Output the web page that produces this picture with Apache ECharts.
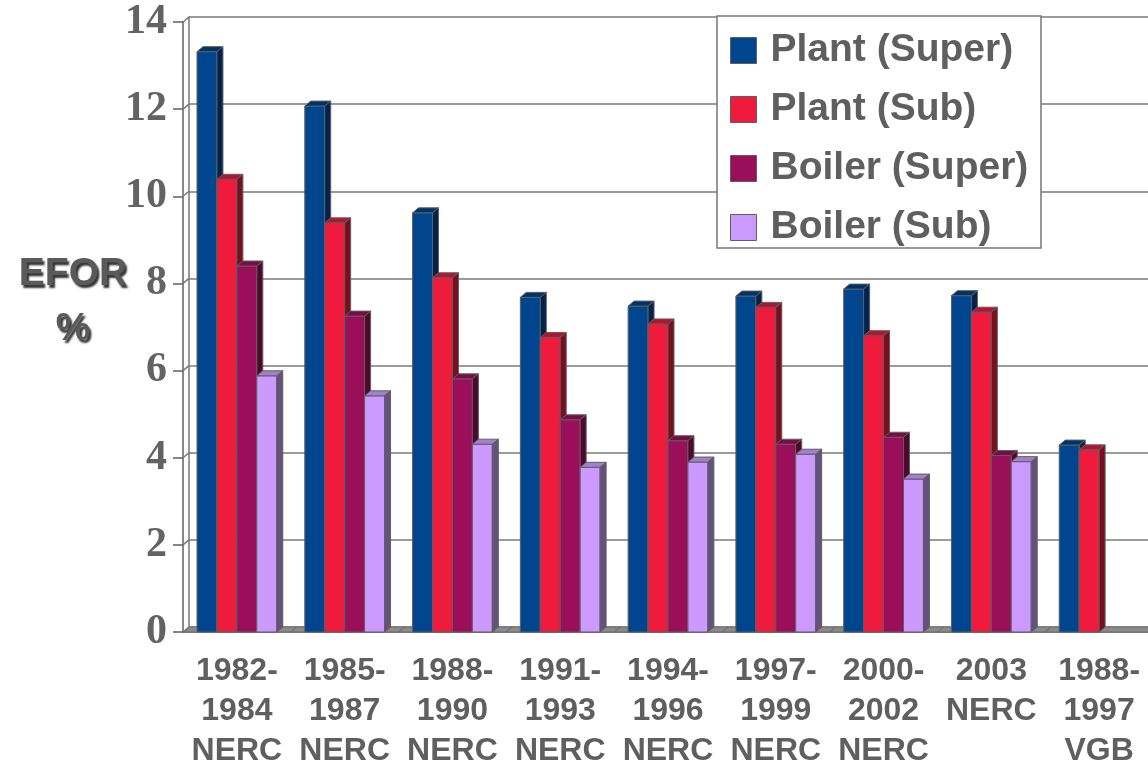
<!DOCTYPE html>
<html>
<head>
<meta charset="utf-8">
<script src="https://cdn.jsdelivr.net/npm/echarts@6.0.0/dist/echarts.min.js"></script>
<style>
  html, body { margin: 0; padding: 0; background: #fff; }
  #chart { width: 1148px; height: 763px; }
</style>
</head>
<body>
<div id="chart"></div>
<script>
const categories = ['1982-\n1984\nNERC', '1985-\n1987\nNERC', '1988-\n1990\nNERC', '1991-\n1993\nNERC',
    '1994-\n1996\nNERC', '1997-\n1999\nNERC', '2000-\n2002\nNERC', '2003\nNERC', '1988-\n1997\nVGB'];
const plantSuper = [13.32, 12.07, 9.62, 7.68, 7.48, 7.71, 7.87, 7.72, 4.29];
const plantSub = [10.39, 9.39, 8.13, 6.76, 7.07, 7.45, 6.80, 7.34, 4.18];
const boilerSuper = [8.40, 7.25, 5.81, 4.87, 4.39, 4.31, 4.47, 4.05, null];
const boilerSub = [5.88, 5.42, 4.31, 3.78, 3.90, 4.08, 3.51, 3.91, null];
const yTicks = [0, 2, 4, 6, 8, 10, 12, 14];

// 3d depth of the columns
const DX = 6, DY = 5;
const EDGE = '#5f5f5f';

const seriesDefs = [
    { name: 'Plant (Super)', data: plantSuper, front: '#02458f', top: '#013269', side: '#01234d' },
    { name: 'Plant (Sub)', data: plantSub, front: '#ee1b3c', top: '#b5142e', side: '#780e1e' },
    { name: 'Boiler (Super)', data: boilerSuper, front: '#9b0e5a', top: '#7a0b47', side: '#4e072d' },
    { name: 'Boiler (Sub)', data: boilerSub, front: '#cc99ff', top: '#a47fcc', side: '#665080' }
];

function makeBarRender(slot, def) {
    return function (params, api) {
        const val = api.value(1);
        if (val == null || isNaN(val)) return;
        const cat = api.value(0);
        const top = api.coord([cat, val]);
        const base = api.coord([cat, 0]);
        const bw = api.size([1, 0])[0] * 0.185;
        const x0 = top[0] + (slot - 2) * bw;
        const y = top[1], yb = base[1];
        return {
            type: 'group',
            children: [
                {
                    type: 'rect',
                    shape: { x: x0, y: y, width: bw, height: yb - y },
                    style: { fill: def.front, stroke: EDGE, lineWidth: 1 }
                },
                {
                    type: 'polygon',
                    shape: { points: [[x0, y], [x0 + DX, y - DY], [x0 + bw + DX, y - DY], [x0 + bw, y]] },
                    style: { fill: def.top, stroke: EDGE, lineWidth: 1 }
                },
                {
                    type: 'polygon',
                    shape: { points: [[x0 + bw, y], [x0 + bw + DX, y - DY], [x0 + bw + DX, yb - DY], [x0 + bw, yb]] },
                    style: { fill: def.side, stroke: EDGE, lineWidth: 1 }
                }
            ]
        };
    };
}

function renderFloor(params, api) {
    const c = api.coord([api.value(0), 0]);
    const w = api.size([1, 0])[0];
    const l = c[0] - w / 2, r = c[0] + w / 2, y = c[1];
    return {
        type: 'polygon',
        shape: { points: [[l, y], [l + DX, y - DY], [r + DX, y - DY], [r, y]] },
        style: { fill: '#8a8a8a', stroke: '#6a6a6a', lineWidth: 1 }
    };
}

function renderWall(params, api) {
    const c = api.coord([0, api.value(1)]);
    const l = c[0] - api.size([1, 0])[0] / 2;
    return {
        type: 'line',
        shape: { x1: l, y1: c[1], x2: l + DX, y2: c[1] - DY },
        style: { stroke: '#777', lineWidth: 1.5 }
    };
}

const chart = echarts.init(document.getElementById('chart'));

const barSeries = seriesDefs.map(function (def, i) {
    return {
        name: def.name,
        type: 'custom',
        xAxisIndex: 0,
        yAxisIndex: 0,
        z: 3,
        itemStyle: { color: def.front },
        renderItem: makeBarRender(i, def),
        data: def.data.map(function (v, k) { return [k, v == null ? NaN : v]; })
    };
});

const option = {
    backgroundColor: '#fff',
    animation: false,
    grid: [
        { left: 183, right: -5, top: 22, bottom: 131, outerBoundsMode: 'none' },
        { left: 189, right: -11, top: 17, bottom: 136, outerBoundsMode: 'none' }
    ],
    graphic: [
        {
            type: 'rect',
            z: 1,
            shape: { x: 717, y: 16, width: 324, height: 232 },
            style: { fill: '#fff', stroke: '#777', lineWidth: 1.5 }
        },
        {
            type: 'text',
            z: 5,
            x: 73,
            y: 302,
            style: {
                text: 'EFOR\n%',
                font: 'bold 39px "Liberation Sans", Arial, sans-serif',
                fill: '#5a5a5a',
                align: 'center',
                verticalAlign: 'middle',
                lineHeight: 55,
                textShadowColor: 'rgba(0,0,0,0.8)',
                textShadowBlur: 2,
                textShadowOffsetX: 2,
                textShadowOffsetY: 3
            }
        }
    ],
    legend: {
        data: seriesDefs.map(function (d) { return d.name; }),
        orient: 'vertical',
        left: 730,
        top: 31,
        padding: 0,
        itemWidth: 26,
        itemHeight: 26,
        itemGap: 20,
        icon: 'rect',
        z: 5,
        itemStyle: { borderColor: EDGE, borderWidth: 1 },
        textStyle: {
            fontFamily: 'Liberation Sans, Arial, sans-serif',
            fontWeight: 'bold',
            fontSize: 39,
            color: '#5f5f5f',
            padding: [0, 0, 0, 9]
        }
    },
    xAxis: [
        {
            type: 'category',
            gridIndex: 0,
            data: categories,
            axisLine: { lineStyle: { color: '#606060', width: 1.5 } },
            axisTick: { length: 11, lineStyle: { color: '#606060', width: 1.5 } },
            axisLabel: {
                interval: 0,
                margin: 19,
                fontFamily: 'Liberation Sans, Arial, sans-serif',
                fontWeight: 'bold',
                fontSize: 32,
                lineHeight: 40,
                color: '#5f5f5f'
            }
        },
        { type: 'category', gridIndex: 1, data: categories, show: false }
    ],
    yAxis: [
        {
            type: 'value',
            gridIndex: 0,
            min: 0,
            max: 14,
            interval: 2,
            axisLine: { show: true, lineStyle: { color: '#606060', width: 1.5 } },
            axisTick: { show: true, length: 10, lineStyle: { color: '#606060', width: 1.5 } },
            splitLine: { show: false },
            axisLabel: {
                margin: 16,
                fontFamily: 'Liberation Serif, Times New Roman, serif',
                fontWeight: 'bold',
                fontSize: 42,
                color: '#636363'
            }
        },
        {
            type: 'value',
            gridIndex: 1,
            min: 0,
            max: 14,
            interval: 2,
            axisLine: { show: true, lineStyle: { color: '#777', width: 1.5 } },
            axisTick: { show: false },
            axisLabel: { show: false },
            splitLine: { show: true, lineStyle: { color: '#7a7a7a', width: 1.5 } }
        }
    ],
    series: [
        {
            name: 'floor',
            type: 'custom',
            xAxisIndex: 0,
            yAxisIndex: 0,
            z: 2,
            silent: true,
            renderItem: renderFloor,
            data: categories.map(function (c, i) { return [i, 0]; })
        },
        {
            name: 'wall',
            type: 'custom',
            xAxisIndex: 0,
            yAxisIndex: 0,
            z: 2,
            silent: true,
            renderItem: renderWall,
            data: yTicks.map(function (t) { return [0, t]; })
        }
    ].concat(barSeries)
};

chart.setOption(option);

window.addEventListener('resize', function () {
    chart.resize();
});
</script>
</body>
</html>
